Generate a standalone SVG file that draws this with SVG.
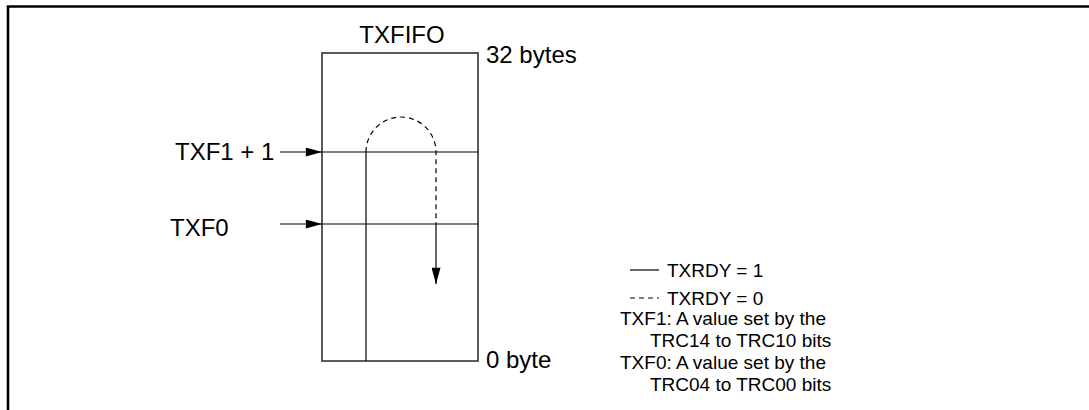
<svg xmlns="http://www.w3.org/2000/svg" width="1089" height="410" viewBox="0 0 1089 410">
<style>
text{font-family:"Liberation Sans",Arial,sans-serif;font-size:24px;fill:#000}
.lg{font-size:19px}
.ln{stroke:#000;stroke-width:1.2;fill:none}
.box{stroke:#333;stroke-width:1.6;fill:none}
.dash{stroke:#000;stroke-width:1.2;fill:none;stroke-dasharray:5,4}
</style>
<defs>
<marker id="ah" viewBox="0 0 18 10" refX="18" refY="5" markerWidth="18" markerHeight="9" markerUnits="userSpaceOnUse" orient="auto">
<path d="M0,0 L18,5 L0,10 Z" fill="#000"/>
</marker>
</defs>
<g id="frame">
<path d="M8,410 V6.5 H1089" stroke="#000" stroke-width="2.6" fill="none"/>
</g>
<g id="fifo">
<rect class="box" x="322" y="53" width="156" height="308"/>
<line class="ln" x1="322" y1="152" x2="478" y2="152"/>
<line class="ln" x1="322" y1="224" x2="478" y2="224"/>
<text x="402" y="43" text-anchor="middle">TXFIFO</text>
<text x="486" y="63">32 bytes</text>
<text x="486" y="368">0 byte</text>
</g>
<g id="ptr-txf1">
<text x="175" y="160">TXF1 + 1</text>
</g>
<g id="ptr-txf0">
<text x="170" y="236">TXF0</text>
</g>
<g id="legend">
<line class="ln" x1="630" y1="270" x2="659" y2="270"/>
<text class="lg" x="667" y="277">TXRDY = 1</text>
<line class="dash" x1="630" y1="298" x2="659" y2="298" stroke-dasharray="4,3"/>
<text class="lg" x="667" y="305">TXRDY = 0</text>
<text class="lg" x="620" y="325">TXF1: A value set by the</text>
<text class="lg" x="650" y="347">TRC14 to TRC10 bits</text>
<text class="lg" x="620" y="369">TXF0: A value set by the</text>
<text class="lg" x="650" y="391">TRC04 to TRC00 bits</text>
</g>
<g id="connectors">
<line class="ln" x1="280" y1="152" x2="322" y2="152" marker-end="url(#ah)"/>
<line class="ln" x1="280" y1="224" x2="322" y2="224" marker-end="url(#ah)"/>
<line class="ln" x1="366" y1="152" x2="366" y2="361"/>
<path class="dash" d="M366,152 A35,35 0 0 1 436,152 V224"/>
<line class="ln" x1="436" y1="224" x2="436" y2="284" marker-end="url(#ah)"/>
</g>
</svg>
